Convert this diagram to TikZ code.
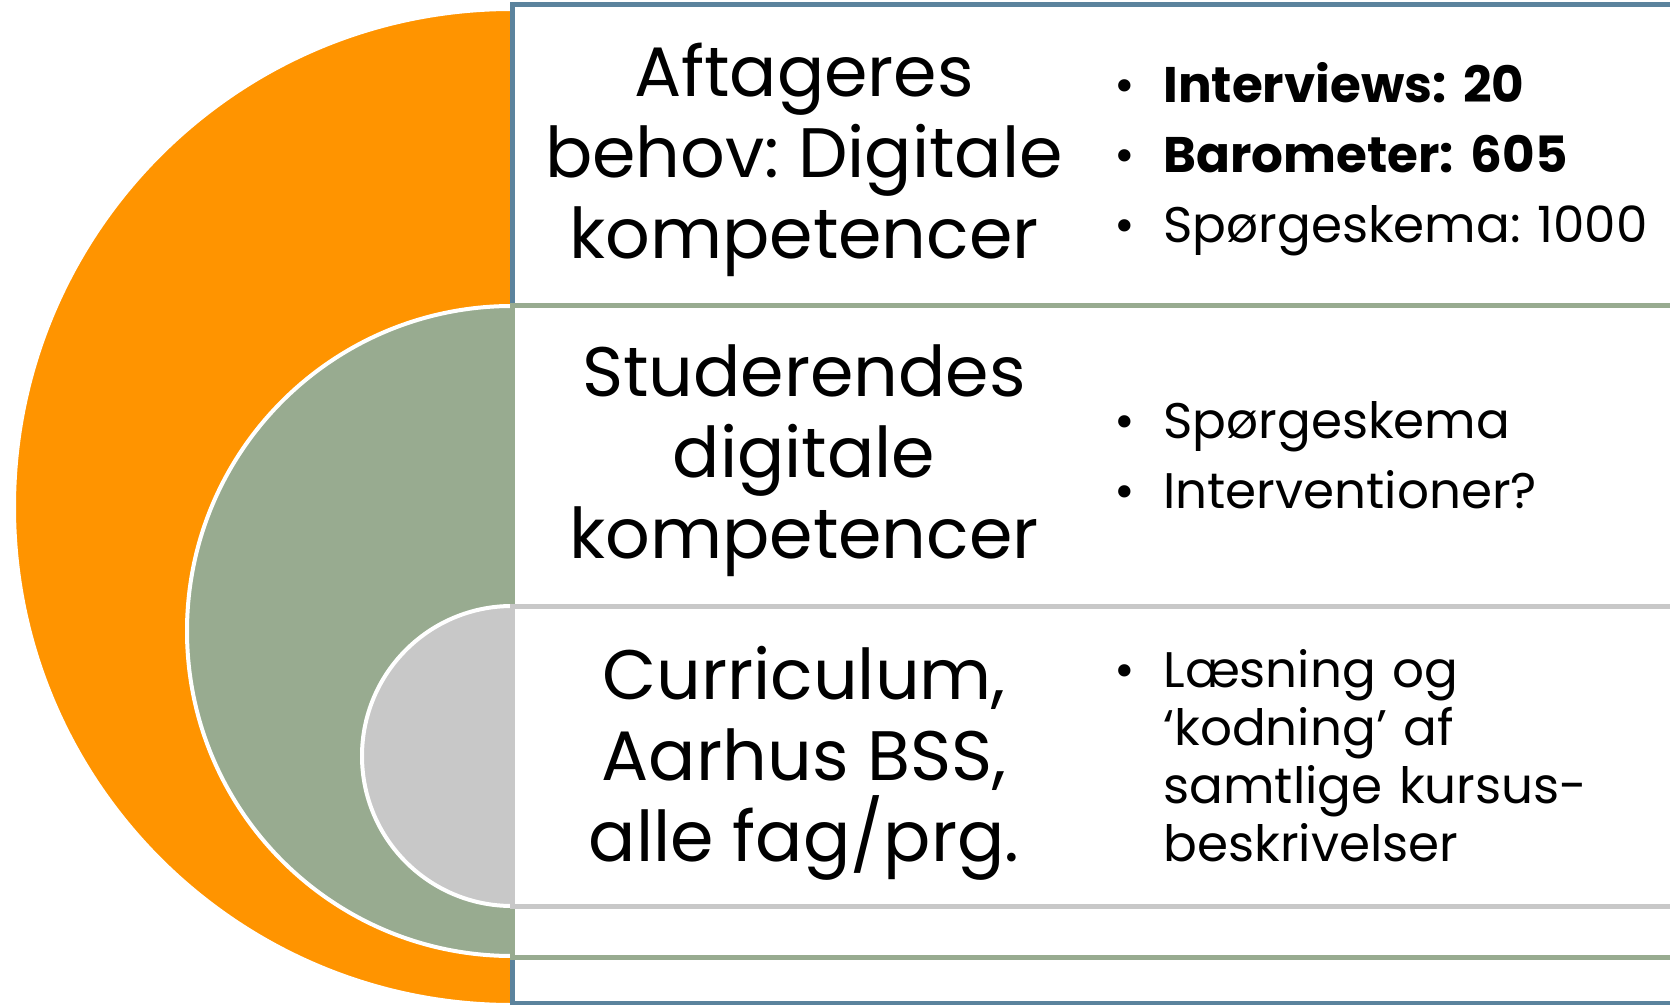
\documentclass[tikz,border=0pt]{standalone}
\usepackage{fontspec}
\setmainfont{Poppins}
\usetikzlibrary{positioning}

\definecolor{aftorange}{HTML}{FF9400}
\definecolor{studgreen}{HTML}{98AB90}
\definecolor{currgray}{HTML}{C8C8C8}
\definecolor{frameblue}{HTML}{5B839D}

% bullet with hanging indent
\newcommand{\itm}{\par\hangindent=24.5pt\hangafter=1\noindent\makebox[24.5pt][l]{\textbullet}}

\begin{document}
\frenchspacing
\hyphenpenalty=10000
\begin{tikzpicture}[x=0.5pt,y=-0.5pt,
  half/.style={draw=white,line width=2pt},
  frame/.style={fill=white,line width=2.5pt},
  head/.style={align=center,inner sep=0pt,font=\fontsize{35}{40.5}\selectfont},
  items/.style={anchor=north west,align=left,text width=400pt,inner sep=0pt,
    font=\fontsize{25}{29}\selectfont\setlength{\parskip}{6pt}}]
\clip (0,0) rectangle (1670,1005);

% nested half discs
\filldraw[half,fill=aftorange] (512,507) circle[radius=498];
\filldraw[half,fill=studgreen] (512,631) circle[radius=325];
\filldraw[half,fill=currgray] (512,756) circle[radius=150];

% frames, open to the right
\filldraw[frame,draw=frameblue] (512,5) rectangle (1720,1003);
\filldraw[frame,draw=studgreen] (512,306) rectangle (1720,957);
\filldraw[frame,draw=currgray] (512,606) rectangle (1720,906);

% headings
\node[head] (aft) at (804,160) {Aftageres\\behov: Digitale\\kompetencer};
\node[head] (stud) at (804,461) {Studerendes\\digitale\\kompetencer};
\node[head] (curr) at (804,763) {Curriculum,\\Aarhus BSS,\\alle fag/prg.};

% bullet lists
\node[items] (aftlist) at (1114,32) {\itm\textbf{Interviews: 20}
  \itm\textbf{Barometer: 605}\itm Spørgeskema: 1000\par};
\node[items] (studlist) at (1114,368) {\itm Spørgeskema\itm Interventioner?\par};
\node[items] (currlist) at (1114,617) {\itm Læsning og\break ‘kodning’ af\break
  samtlige kursus-\break beskrivelser\par};
\end{tikzpicture}
\end{document}
